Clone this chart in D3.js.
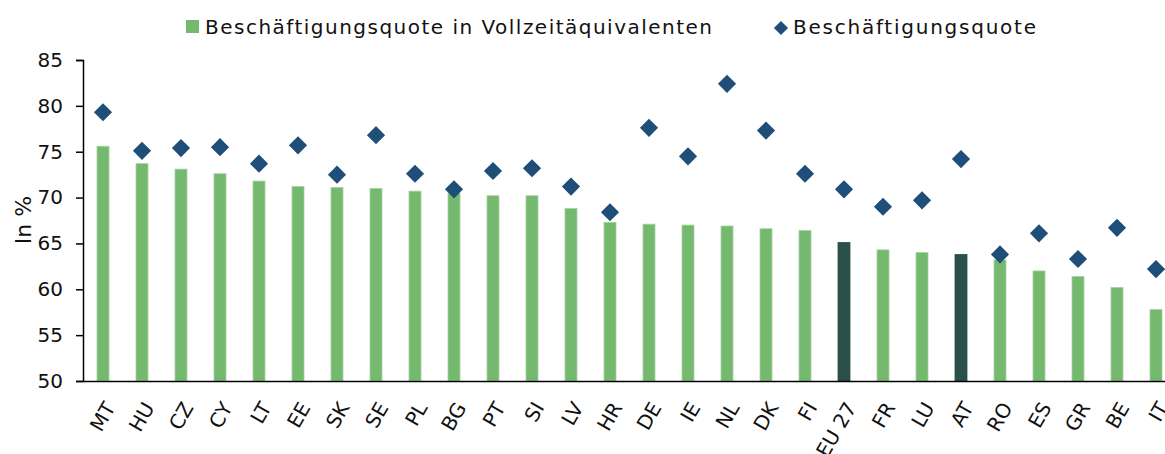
<!DOCTYPE html>
<html>
<head>
<meta charset="utf-8">
<script src="https://cdn.jsdelivr.net/npm/d3@7"></script>
<style>
  html, body { margin: 0; padding: 0; background: #ffffff; }
  svg { display: block; }
</style>
</head>
<body>
<svg id="chart"></svg>
<script>
// Country codes along the x axis
const countries = ['MT', 'HU', 'CZ', 'CY', 'LT', 'EE', 'SK', 'SE', 'PL', 'BG', 'PT', 'SI', 'LV', 'HR',
    'DE', 'IE', 'NL', 'DK', 'FI', 'EU 27', 'FR', 'LU', 'AT', 'RO', 'ES', 'GR', 'BE', 'IT'];

// Beschäftigungsquote in Vollzeitäquivalenten (bars)
const fteRate = [75.6, 73.7, 73.1, 72.6, 71.8, 71.2, 71.1, 71.0, 70.7, 70.5, 70.2, 70.2, 68.8, 67.3,
    67.1, 67.0, 66.9, 66.6, 66.4, 65.1, 64.3, 64.0, 63.8, 63.2, 62.0, 61.4, 60.2, 57.8];

// Beschäftigungsquote (diamonds)
const empRate = [79.3, 75.1, 75.4, 75.5, 73.7, 75.7, 72.5, 76.8, 72.6, 70.9, 72.9, 73.2, 71.2, 68.4,
    77.6, 74.5, 82.4, 77.3, 72.6, 70.9, 69.0, 69.7, 74.2, 63.8, 66.1, 63.3, 66.7, 62.2];

// Highlighted categories drawn in the dark colour
const highlighted = ['EU 27', 'AT'];

const yTicks = [50, 55, 60, 65, 70, 75, 80, 85];

const legendLabels = ['Beschäftigungsquote in Vollzeitäquivalenten', 'Beschäftigungsquote'];

const WIDTH = 1165;
const HEIGHT = 454;
const FONT = "'DejaVu Sans', sans-serif";
const BAR_COLOR = '#74b96e';
const BAR_DARK = '#2b5049';
const DIAMOND_COLOR = '#1f4e79';

const svg = d3.select('#chart')
    .attr('width', WIDTH)
    .attr('height', HEIGHT);

const x = d3.scaleBand()
    .domain(countries)
    .range([83.5, 1175.5])
    .paddingInner(0)
    .paddingOuter(0);

const y = d3.scaleLinear()
    .domain([50, 85])
    .range([381, 60]);

const barWidth = 12;

// bars
svg.append('g')
    .selectAll('rect')
    .data(countries)
    .join('rect')
    .attr('x', d => x(d) + x.bandwidth() / 2 - barWidth / 2)
    .attr('y', (d, i) => y(fteRate[i]))
    .attr('width', barWidth)
    .attr('height', (d, i) => y(50) - y(fteRate[i]))
    .attr('fill', d => highlighted.includes(d) ? BAR_DARK : BAR_COLOR)
    .attr('stroke', d => highlighted.includes(d) ? BAR_DARK : '#a6d3a1')
    .attr('stroke-width', 0.8);

// diamonds
const diamond = d3.symbol().type(d3.symbolSquare).size(165);
svg.append('g')
    .selectAll('path')
    .data(countries)
    .join('path')
    .attr('d', diamond)
    .attr('transform', (d, i) => `translate(${x(d) + x.bandwidth() / 2}, ${y(empRate[i])}) rotate(45)`)
    .attr('fill', DIAMOND_COLOR);

// y axis
const yAxis = svg.append('g')
    .attr('transform', 'translate(83, 0)')
    .call(d3.axisLeft(y).tickValues(yTicks).tickSize(7).tickPadding(13));

yAxis.select('.domain')
    .attr('stroke', '#000')
    .attr('stroke-width', 1.5);
yAxis.selectAll('.tick line')
    .attr('stroke', '#000')
    .attr('stroke-width', 1.5);
yAxis.selectAll('.tick text')
    .attr('font-family', FONT)
    .attr('font-size', '20px')
    .attr('fill', '#111');

// x axis
const xAxis = svg.append('g')
    .attr('transform', 'translate(0, 381)')
    .call(d3.axisBottom(x).tickSize(0).tickSizeOuter(0).tickPadding(0));

xAxis.select('.domain')
    .attr('stroke', '#000')
    .attr('stroke-width', 1.5);
xAxis.selectAll('.tick text')
    .attr('font-family', FONT)
    .attr('font-size', '20px')
    .attr('fill', '#111')
    .attr('text-anchor', 'end')
    .attr('dy', '0.35em')
    .attr('transform', 'translate(7, 23) rotate(-60)');

// y axis title
svg.append('text')
    .attr('transform', 'translate(31, 220) rotate(-90)')
    .attr('text-anchor', 'middle')
    .attr('font-family', FONT)
    .attr('font-size', '22px')
    .attr('fill', '#111')
    .text('In %');

// legend
const legend = svg.append('g');

legend.append('rect')
    .attr('x', 186)
    .attr('y', 20)
    .attr('width', 13)
    .attr('height', 13)
    .attr('fill', BAR_COLOR);

legend.append('text')
    .attr('x', 205)
    .attr('y', 34)
    .attr('font-family', FONT)
    .attr('font-size', '20px')
    .attr('fill', '#111')
    .attr('textLength', 507)
    .attr('lengthAdjust', 'spacing')
    .text(legendLabels[0]);

legend.append('path')
    .attr('d', d3.symbol().type(d3.symbolSquare).size(100))
    .attr('transform', 'translate(781, 28) rotate(45)')
    .attr('fill', DIAMOND_COLOR);

legend.append('text')
    .attr('x', 793)
    .attr('y', 34)
    .attr('font-family', FONT)
    .attr('font-size', '20px')
    .attr('fill', '#111')
    .attr('textLength', 243)
    .attr('lengthAdjust', 'spacing')
    .text(legendLabels[1]);
</script>
</body>
</html>
